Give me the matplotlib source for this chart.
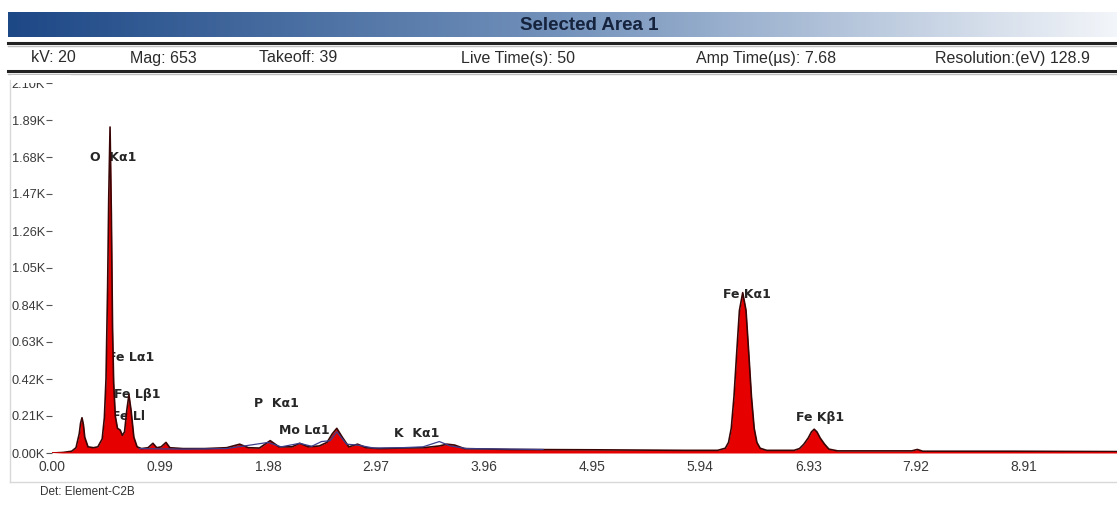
import numpy as np
import matplotlib
matplotlib.use("Agg")
import matplotlib.pyplot as plt
from matplotlib.colors import LinearSegmentedColormap
from matplotlib.lines import Line2D
from matplotlib.patches import Rectangle

# spectrum (energy in keV, counts in thousands)
energy = [0.00, 0.10, 0.18, 0.22, 0.25, 0.262, 0.275, 0.288, 0.30, 0.33, 0.38, 0.42, 0.46,
          0.48, 0.495, 0.51, 0.52, 0.532, 0.544, 0.555, 0.565, 0.58, 0.60, 0.625, 0.645,
          0.665, 0.685, 0.705, 0.725, 0.75, 0.78, 0.82, 0.88, 0.925, 0.96, 1.00, 1.045,
          1.08, 1.20, 1.40, 1.60, 1.72, 1.80, 1.90, 2.00, 2.08, 2.20, 2.27, 2.35, 2.45,
          2.52, 2.57, 2.61, 2.66, 2.72, 2.80, 2.88, 3.00, 3.20, 3.40, 3.55, 3.62, 3.69,
          3.78, 4.20, 5.00, 5.80, 6.10,
          6.17, 6.20, 6.225, 6.25, 6.275, 6.30, 6.33, 6.36, 6.385, 6.41, 6.435, 6.46, 6.49,
          6.55, 6.80, 6.85, 6.89, 6.93, 6.96, 6.985, 7.01, 7.04, 7.08, 7.12, 7.20, 7.88,
          7.93, 7.98, 8.80, 9.76]
counts = [0.000, 0.003, 0.010, 0.030, 0.110, 0.170, 0.200, 0.160, 0.090, 0.035, 0.030, 0.035, 0.080,
          0.200, 0.420, 0.950, 1.450, 1.850, 1.350, 0.700, 0.400, 0.210, 0.140, 0.130, 0.100,
          0.120, 0.240, 0.330, 0.240, 0.090, 0.035, 0.025, 0.030, 0.055, 0.030, 0.035, 0.060,
          0.030, 0.025, 0.025, 0.030, 0.050, 0.030, 0.028, 0.070, 0.035, 0.035, 0.055, 0.035, 0.040,
          0.060, 0.110, 0.140, 0.090, 0.035, 0.050, 0.030, 0.025, 0.028, 0.030, 0.040, 0.050, 0.045,
          0.025, 0.020, 0.018, 0.015, 0.015,
          0.027, 0.060, 0.140, 0.320, 0.570, 0.810, 0.910, 0.810, 0.570, 0.320, 0.140, 0.060, 0.027,
          0.015, 0.015, 0.025, 0.050, 0.085, 0.120, 0.135, 0.120, 0.085, 0.050, 0.022, 0.012, 0.012,
          0.020, 0.010, 0.010, 0.008]

# fitted model line (blue)
fit_energy = [0.80, 1.20, 1.60, 1.98, 2.10, 2.27, 2.38, 2.47, 2.55, 2.61, 2.70, 2.80, 2.95,
              3.20, 3.40, 3.55, 3.65, 3.80, 4.50]
fit_counts = [0.025, 0.022, 0.025, 0.060, 0.035, 0.055, 0.038, 0.065, 0.070, 0.120, 0.050, 0.045, 0.028,
              0.030, 0.035, 0.065, 0.040, 0.025, 0.020]

peak_labels = ["O  K\u03b11", "Fe L\u03b11", "Fe L\u03b21", "Fe Ll", "P  K\u03b11", "Mo L\u03b11",
               "K  K\u03b11", "Fe K\u03b11", "Fe K\u03b21"]
label_x = [0.35, 0.515, 0.565, 0.55, 1.85, 2.08, 3.13, 6.15, 6.82]
label_y = [1.68, 0.54, 0.33, 0.21, 0.28, 0.13, 0.11, 0.90, 0.20]

info = ["kV: 20", "Mag: 653", "Takeoff: 39", "Live Time(s): 50", "Amp Time(\u00b5s): 7.68",
        "Resolution:(eV) 128.9"]
info_x = [53, 163, 298, 518, 766, 1012]

yticks = [0.00, 0.21, 0.42, 0.63, 0.84, 1.05, 1.26, 1.47, 1.68, 1.89, 2.10]
xticks = [0.00, 0.99, 1.98, 2.97, 3.96, 4.95, 5.94, 6.93, 7.92, 8.91]

W, H = 1117, 505
fig = plt.figure(figsize=(W / 100, H / 100), dpi=100)
plt.rcParams["font.family"] = ["Liberation Sans", "DejaVu Sans"]

# title bar with gradient
bar = fig.add_axes([8 / W, (H - 37) / H, (W - 8) / W, 25 / H])
cmap = LinearSegmentedColormap.from_list("bar", [(0, "#1d4886"), (0.5, "#7392bb"), (1, "#f2f5f9")])
bar.imshow(np.linspace(0, 1, 256)[None, :], aspect="auto", cmap=cmap, extent=[0, 1, 0, 1])
bar.set_axis_off()
bar.text(0.524, 0.45, "Selected Area 1", ha="center", va="center", fontsize=13.5,
         fontweight="bold", color="#15233d")

for yy, c, lw in [(43, "#222222", 2.2), (45.5, "#bdbdbd", 1), (71, "#222222", 2.2), (73.5, "#bdbdbd", 1)]:
    fig.add_artist(Line2D([8 / W, 1], [(H - yy) / H] * 2, color=c, lw=lw))

for s, xx in zip(info, info_x):
    fig.text(xx / W, (H - 58) / H, s, ha="center", va="center", fontsize=11.5, color="#2b2b2b")

# light frame round the plot
fig.add_artist(Line2D([10 / W, 10 / W], [(H - 80) / H, (H - 482) / H], color="#d8d8d8", lw=1))
fig.add_artist(Line2D([10 / W, 1], [(H - 482) / H] * 2, color="#d8d8d8", lw=1))

ax = fig.add_axes([52 / W, (H - 453) / H, (W - 52) / W, 370 / H])
ax.fill_between(energy, counts, 0, color="#e60000", lw=0, zorder=3)
ax.plot(energy, counts, color="#3a0505", lw=1.2, zorder=4)
ax.plot(fit_energy, fit_counts, color="#3b3f8c", lw=0.9, zorder=4)
ax.axhline(0, color="#e60000", lw=1.8, zorder=5)

for s, xx, yy in zip(peak_labels, label_x, label_y):
    ax.text(xx, yy, s, fontsize=9, fontweight="bold", color="#262626",
            family="DejaVu Sans", va="center", zorder=2)

ax.set_xlim(0, 9.76)
ax.set_ylim(0, 2.10)
ax.set_xticks(xticks)
ax.set_xticklabels([f"{v:.2f}" for v in xticks])
ax.set_yticks(yticks)
ax.set_yticklabels([f"{v:.2f}K" for v in yticks])
ax.tick_params(axis="x", length=0, pad=5, labelsize=10, labelcolor="#3a3a3a")
ax.tick_params(axis="y", length=4, width=0.8, color="#555555", pad=1, labelsize=9.2,
               labelcolor="#3a3a3a")
for sp in ax.spines.values():
    sp.set_visible(False)

# top of the 2.10K label is hidden under the header
fig.add_artist(Rectangle((11 / W, (H - 83) / H), 60 / W, 8 / H, transform=fig.transFigure,
                         facecolor="white", edgecolor="none", zorder=10))

fig.text(40 / W, (H - 492) / H, "Det: Element-C2B", fontsize=8.5, color="#333333", va="center")

fig.savefig("out.png", dpi=100, facecolor="white")
